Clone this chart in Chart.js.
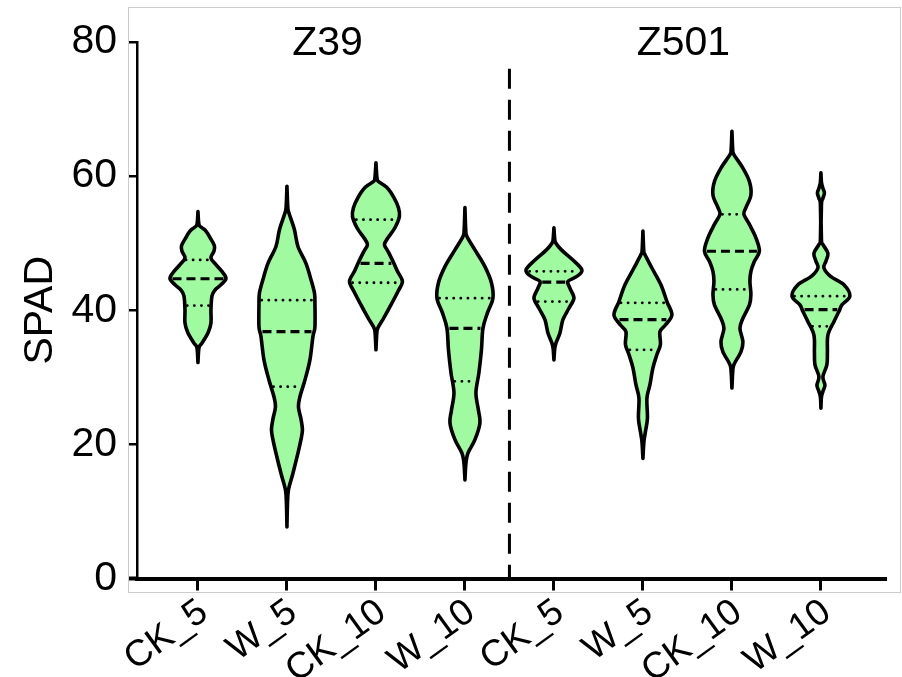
<!DOCTYPE html>
<html><head><meta charset="utf-8">
<script src="https://cdn.jsdelivr.net/npm/chart.js@4.4.1/dist/chart.umd.min.js"></script>
<style>html,body{margin:0;padding:0;background:#fff;}canvas{display:block;}</style>
</head><body>
<canvas id="c" width="902" height="677"></canvas>
<script>
// ---------- DATA ----------
const categories = ['CK_5', 'W_5', 'CK_10', 'W_10', 'CK_5', 'W_5', 'CK_10', 'W_10'];
const groups = ['Z39', 'Z501'];
const yTicks = [0, 20, 40, 60, 80];
const medians        = [44.7, 36.8, 47.0, 37.3, 44.2, 38.6, 48.8, 40.1];
const lowerQuartiles = [40.7, 28.6, 44.1, 29.4, 41.3, 34.1, 43.1, 37.6];
const upperQuartiles = [47.5, 41.5, 53.5, 41.8, 45.8, 41.1, 54.3, 42.1];
const dividerTop = 76;

// violin profiles: [SPAD value, relative density]
const z39_CK_5 = [[54.7,0],[52.8,1],[52.3,4],[51.8,8],[50.6,13],[49.6,16.5],[48.8,16],[47.8,13],[46.8,18],[45.6,25],[44.7,28],[43.8,23],[43.0,17],[42.1,14],[40.1,13],[38.1,13],[36.6,10],[35.1,4],[34.4,1],[32.2,0]];
const z39_W_5 = [[58.5,0],[55.5,0.8],[54.5,2],[52.0,7.5],[49.5,11],[47.0,19],[44.6,24],[42.6,27.5],[41.0,28],[37.5,28],[36.1,26],[32.6,23],[29.6,18],[27.1,13],[25.6,11.5],[23.8,14],[22.2,15.5],[20.7,14],[18.7,11],[15.7,6],[13.2,1.5],[11.0,0.5],[7.7,0]];
const z39_CK_10 = [[62.0,0],[59.8,1],[59.2,2.5],[58.3,11],[56.8,18],[55.3,22.5],[54.0,23.5],[52.3,19],[50.8,12],[49.8,8.5],[48.8,12],[47.3,17],[45.8,21.5],[44.3,26.5],[42.8,22],[40.8,15],[38.9,8],[37.4,2],[36.5,0.8],[34.1,0]];
const z39_W_10 = [[55.3,0],[52.0,0.8],[51.0,2],[49.0,10],[46.5,20],[44.1,26.5],[41.8,28],[39.6,22.5],[37.3,18],[34.1,16.5],[30.7,14],[27.7,11],[25.1,13.5],[23.2,15],[20.7,10],[18.7,3],[17.2,1],[14.7,0]];
const z501_CK_5 = [[52.3,0],[50.6,0.8],[50.0,2],[49.0,7.5],[47.5,19],[46.0,28],[45.0,22.5],[44.3,14],[43.3,16],[41.8,20],[40.3,15],[38.6,9],[36.6,6],[35.1,2],[34.3,0.8],[32.6,0]];
const z501_W_5 = [[51.8,0],[49.0,0.8],[48.3,2],[46.3,9],[43.8,18],[41.3,24],[39.3,29],[37.8,22.5],[36.8,17],[34.9,17.5],[33.4,14],[31.4,10],[28.9,7],[26.9,4],[23.9,4.5],[21.9,2.5],[20.4,1],[17.9,0]];
const z501_CK_10 = [[66.7,0],[64.0,0.8],[63.2,2],[61.2,11],[59.2,17.5],[57.2,19],[55.3,14],[54.3,12],[52.8,17.5],[50.8,24],[48.8,27.5],[47.3,22.5],[45.8,19],[44.3,18],[42.3,19],[40.8,17.5],[38.8,11],[37.3,8],[35.3,11],[33.8,9],[31.9,2],[30.8,0.8],[28.4,0]];
const z501_W_10 = [[60.5,0],[59.0,0.6],[58.2,2],[57.5,3.5],[56.7,2],[55.7,0.5],[50.6,0.5],[49.8,2],[48.5,7],[47.3,5],[46.3,3],[45.0,10],[43.8,23],[42.1,29],[40.8,21],[39.8,18],[38.3,13],[36.3,7],[33.8,6.5],[31.9,6],[30.1,2],[28.8,4],[27.9,2],[27.0,0.5],[25.4,0]];
const violinProfiles = [z39_CK_5, z39_W_5, z39_CK_10, z39_W_10, z501_CK_5, z501_W_5, z501_CK_10, z501_W_10];

// ---------- STYLE ----------
const FONT = "'Liberation Sans', Arial, Helvetica, sans-serif";
const FILL = '#a0faa0';
const DENSITY_MAX = 28.5;     // density value that gives the full violin width
const VIOLIN_FRACTION = 0.32; // half width as fraction of category spacing

function densityAt(profile, v) {
  for (let i = 0; i < profile.length - 1; i++) {
    const [v1, d1] = profile[i], [v2, d2] = profile[i + 1];
    if (v <= v1 && v >= v2) {
      const t = (v1 - v) / (v1 - v2 || 1);
      return d1 + (d2 - d1) * t;
    }
  }
  return 0;
}

function crSegment(ctx, pts, cx, side) {
  for (let i = 0; i < pts.length - 1; i++) {
    const p0 = pts[i - 1] || pts[i], p1 = pts[i], p2 = pts[i + 1], p3 = pts[i + 2] || p2;
    let c1x = p1.x + (p2.x - p0.x) / 6, c1y = p1.y + (p2.y - p0.y) / 6;
    let c2x = p2.x - (p3.x - p1.x) / 6, c2y = p2.y - (p3.y - p1.y) / 6;
    if (side > 0) { c1x = Math.max(c1x, cx); c2x = Math.max(c2x, cx); }
    else { c1x = Math.min(c1x, cx); c2x = Math.min(c2x, cx); }
    ctx.bezierCurveTo(c1x, c1y, c2x, c2y, p2.x, p2.y);
  }
}

const violinPlugin = {
  id: 'violins',
  beforeDraw(chart) {
    const {ctx, chartArea} = chart;
    const W = ctx.canvas.width;
    ctx.save();
    ctx.strokeStyle = '#cccccc';
    ctx.lineWidth = 1;
    const l = chartArea.left - 8.5;
    ctx.strokeRect(l, 7.5, (W - 1.5) - l, chartArea.bottom + 14 - 7.5);
    ctx.restore();
  },
  afterDatasetsDraw(chart) {
    const {ctx, chartArea} = chart;
    const xs = chart.scales.x, ys = chart.scales.y;
    const step = xs.getPixelForValue(2) - xs.getPixelForValue(1);
    const k = step * VIOLIN_FRACTION / DENSITY_MAX;
    ctx.save();
    violinProfiles.forEach((profile, i) => {
      const cx = xs.getPixelForValue(i + 1);
      const right = profile.map(([v, d]) => ({x: cx + d * k, y: ys.getPixelForValue(v)}));
      const left = profile.slice().reverse().map(([v, d]) => ({x: cx - d * k, y: ys.getPixelForValue(v)}));
      ctx.beginPath();
      ctx.moveTo(right[0].x, right[0].y);
      crSegment(ctx, right, cx, 1);
      crSegment(ctx, left, cx, -1);
      ctx.closePath();
      ctx.fillStyle = FILL;
      ctx.fill();
      ctx.lineWidth = 3.6;
      ctx.lineJoin = 'round';
      ctx.strokeStyle = '#000';
      ctx.setLineDash([]);
      ctx.stroke();
      // median & quartiles
      const lines = [[medians[i], [9, 5], 3.2, 'butt'], [lowerQuartiles[i], [0.1, 7], 2.8, 'round'], [upperQuartiles[i], [0.1, 7], 2.8, 'round']];
      lines.forEach(([v, dash, w, cap]) => {
        const hw = densityAt(profile, v) * k - 2.5;
        const y = ys.getPixelForValue(v);
        ctx.beginPath();
        ctx.setLineDash(dash);
        ctx.lineCap = cap;
        ctx.lineWidth = w;
        ctx.moveTo(cx - hw, y);
        ctx.lineTo(cx + hw, y);
        ctx.stroke();
      });
      ctx.lineCap = 'butt';
    });
    // group divider
    const dx = xs.getPixelForValue(4.5);
    ctx.beginPath();
    ctx.setLineDash([20, 11]);
    ctx.lineWidth = 3;
    ctx.moveTo(dx, ys.getPixelForValue(dividerTop));
    ctx.lineTo(dx, ys.getPixelForValue(0));
    ctx.stroke();
    ctx.setLineDash([]);
    // x axis extension to the left
    ctx.beginPath();
    ctx.lineWidth = 4;
    ctx.moveTo(chartArea.left - 8, ys.getPixelForValue(0));
    ctx.lineTo(chartArea.left, ys.getPixelForValue(0));
    ctx.stroke();
    // group titles
    ctx.fillStyle = '#000';
    ctx.font = '41px ' + FONT;
    ctx.textAlign = 'center';
    ctx.textBaseline = 'middle';
    groups.forEach((g, gi) => {
      const gx = (xs.getPixelForValue(gi * 4 + 1) + xs.getPixelForValue(gi * 4 + 4)) / 2;
      ctx.fillText(g, gx - 4, ys.getPixelForValue(80) + 2);
    });
    ctx.restore();
  }
};

new Chart(document.getElementById('c'), {
  type: 'scatter',
  data: {
    datasets: [{
      label: 'median',
      data: medians.map((m, i) => ({x: i + 1, y: m})),
      pointRadius: 0,
      showLine: false
    }]
  },
  options: {
    responsive: false,
    animation: false,
    devicePixelRatio: 1,
    layout: {padding: {top: 42, right: 17, bottom: 0, left: 0}},
    plugins: {legend: {display: false}, tooltip: {enabled: false}},
    scales: {
      x: {
        type: 'linear',
        min: 0.315, max: 8.72,
        grid: {drawOnChartArea: false, drawTicks: true, tickLength: 12, lineWidth: 3, color: '#000'},
        border: {display: true, width: 4, color: '#000'},
        afterBuildTicks: s => { s.ticks = categories.map((_, i) => ({value: i + 1})); },
        afterFit: s => { s.height = 98.5; },
        ticks: {
          autoSkip: false, minRotation: 36, maxRotation: 36, padding: 0, labelOffset: 6,
          color: '#000', font: {size: 37, family: FONT},
          callback: v => categories[v - 1]
        }
      },
      y: {
        min: 0, max: 80,
        afterBuildTicks: s => { s.ticks = yTicks.map(v => ({value: v})); },
        afterFit: s => { s.width = 137; },
        grid: {drawOnChartArea: false, drawTicks: true, tickLength: 8, lineWidth: 2.5, color: '#000'},
        border: {display: true, width: 2.5, color: '#000'},
        ticks: {padding: 12, color: '#000', font: {size: 41, family: FONT}},
        title: {display: true, text: 'SPAD', color: '#000', font: {size: 41, family: FONT}, padding: {top: 16, bottom: 0}}
      }
    }
  },
  plugins: [violinPlugin]
});
</script>
</body></html>
